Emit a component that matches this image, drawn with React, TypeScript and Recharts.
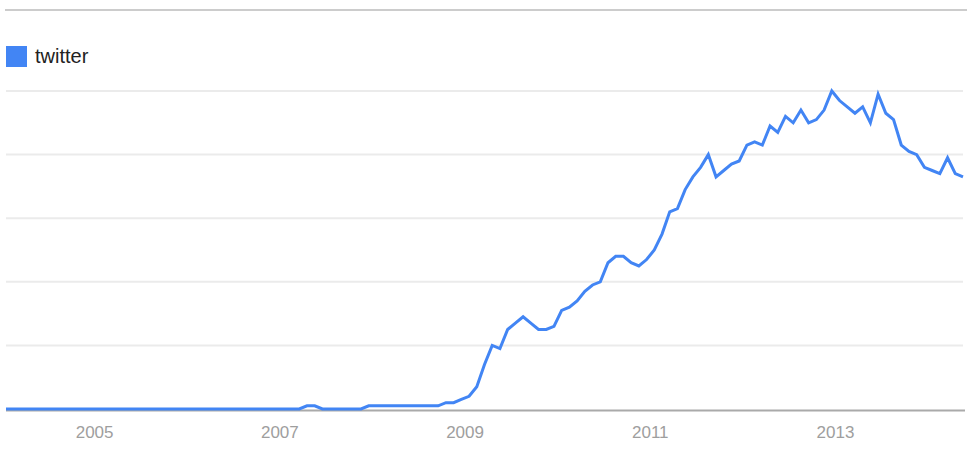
import { LineChart, Line, XAxis, YAxis, CartesianGrid } from 'recharts';

// monthly search interest, Jan 2004 .. May 2014
const startYear = 2004;
const twitterValues = [
  0, 0, 0, 0, 0, 0, 0, 0, 0, 0, 0, 0, // 2004
  0, 0, 0, 0, 0, 0, 0, 0, 0, 0, 0, 0, // 2005
  0, 0, 0, 0, 0, 0, 0, 0, 0, 0, 0, 0, // 2006
  0, 0, 0, 1, 1, 0, 0, 0, 0, 0, 0, 1, // 2007
  1, 1, 1, 1, 1, 1, 1, 1, 1, 2, 2, 3, // 2008
  4, 7, 14, 20, 19, 25, 27, 29, 27, 25, 25, 26, // 2009
  31, 32, 34, 37, 39, 40, 46, 48, 48, 46, 45, 47, // 2010
  50, 55, 62, 63, 69, 73, 76, 80, 73, 75, 77, 78, // 2011
  83, 84, 83, 89, 87, 92, 90, 94, 90, 91, 94, 100, // 2012
  97, 95, 93, 95, 90, 99, 93, 91, 83, 81, 80, 76, // 2013
  75, 74, 79, 74, 73, // 2014
];
const yearTicks = [2005, 2007, 2009, 2011, 2013];
const valueTicks = [0, 20, 40, 60, 80, 100];
const seriesName = 'twitter';

const data = twitterValues.map((v, i) => ({ t: startYear + i / 12, twitter: v }));
const lastT = data[data.length - 1].t;

const BLUE = '#4285f4';
const CHART_H = 449;
const MARGIN = { top: 91, right: 8, bottom: 0, left: 6 };
const AXIS_H = 40;
const plotBottom = CHART_H - MARGIN.bottom - AXIS_H;

function YearTick(props: any) {
  const { x, y, payload } = props;
  return (
    <text
      x={x - 4}
      y={y + 29}
      textAnchor="middle"
      fill="#9e9e9e"
      fontSize={17}
      fontFamily="Arial, 'Liberation Sans', sans-serif"
    >
      {payload.value}
    </text>
  );
}

// light grid lines, the zero line is the darker baseline sitting just under the series
function GridLine(props: any) {
  const { x1, x2, y1, y2 } = props;
  const isBase = Math.abs(y1 - plotBottom) < 1;
  return (
    <line
      x1={x1}
      x2={x2 + (isBase ? 2 : 0)}
      y1={isBase ? y1 + 1.5 : y1}
      y2={isBase ? y2 + 1.5 : y2}
      stroke={isBase ? '#aaaaaa' : '#ebebeb'}
      strokeWidth={2}
    />
  );
}

export default function App() {
  return (
    <div style={{ position: 'relative', width: 971, height: CHART_H, background: '#fff' }}>
      <style>{'body{margin:0}'}</style>
      <div
        style={{
          position: 'absolute',
          left: 5,
          top: 9,
          width: 962,
          height: 2,
          background: '#cccccc',
        }}
      />
      <div
        style={{
          position: 'absolute',
          left: 6,
          top: 45,
          display: 'flex',
          alignItems: 'center',
          fontFamily: "Arial, 'Liberation Sans', sans-serif",
          fontSize: 20,
          color: '#222',
        }}
      >
        <span style={{ width: 21, height: 21, background: BLUE, display: 'inline-block' }} />
        <span style={{ marginLeft: 8 }}>{seriesName}</span>
      </div>
      <LineChart
        width={971}
        height={CHART_H}
        data={data}
        margin={MARGIN}
        style={{ position: 'absolute', left: 0, top: 0 }}
      >
        <CartesianGrid vertical={false} horizontal={(p: any) => <GridLine {...p} />} />
        <YAxis hide domain={[0, 100]} ticks={valueTicks} />
        <XAxis
          dataKey="t"
          type="number"
          domain={[startYear, lastT]}
          ticks={yearTicks}
          height={AXIS_H}
          tickSize={0}
          tickMargin={0}
          tickLine={false}
          axisLine={false}
          tick={<YearTick />}
        />
        <Line
          type="linear"
          dataKey="twitter"
          stroke={BLUE}
          strokeWidth={3}
          dot={false}
          activeDot={false}
          isAnimationActive={false}
        />
      </LineChart>
    </div>
  );
}
